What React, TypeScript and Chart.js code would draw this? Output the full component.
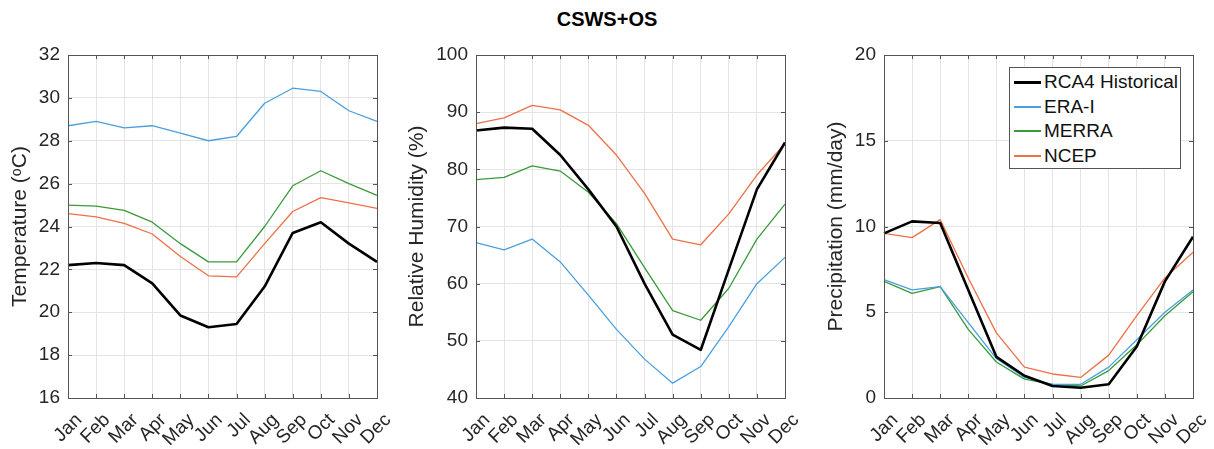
import React, { useEffect, useRef } from "react";
import { Chart, registerables } from "chart.js";

Chart.register(...registerables);

const months = ["Jan", "Feb", "Mar", "Apr", "May", "Jun", "Jul", "Aug", "Sep", "Oct", "Nov", "Dec"];
const seriesNames = ["RCA4 Historical", "ERA-I", "MERRA", "NCEP"];
const seriesColors = ["#000000", "#4a9fdf", "#3a9a3a", "#ee7046"];
const seriesWidths = [2.6, 1.3, 1.3, 1.3];

// Temperature (°C)
const tempRCA4 = [22.2, 22.3, 22.2, 21.35, 19.85, 19.3, 19.45, 21.2, 23.7, 24.2, 23.2, 22.35];
const tempERAI = [28.7, 28.9, 28.6, 28.7, 28.35, 28.0, 28.2, 29.75, 30.45, 30.3, 29.4, 28.9];
const tempMERRA = [25.0, 24.95, 24.75, 24.2, 23.2, 22.35, 22.35, 24.0, 25.9, 26.6, 26.0, 25.45];
const tempNCEP = [24.6, 24.45, 24.15, 23.65, 22.6, 21.7, 21.65, 23.2, 24.7, 25.35, 25.1, 24.85];

// Relative humidity (%)
const rhRCA4 = [86.8, 87.3, 87.1, 82.5, 76.5, 70.0, 60.0, 51.1, 48.4, 62.5, 76.5, 84.7];
const rhERAI = [67.2, 65.9, 67.8, 63.8, 58.0, 52.0, 46.8, 42.6, 45.5, 52.5, 60.0, 64.6];
const rhMERRA = [78.2, 78.6, 80.6, 79.7, 76.0, 70.5, 62.8, 55.3, 53.6, 59.2, 67.8, 73.9];
const rhNCEP = [88.0, 89.0, 91.2, 90.4, 87.7, 82.5, 75.8, 67.8, 66.8, 72.2, 79.0, 84.5];

// Precipitation (mm/day)
const prRCA4 = [9.6, 10.3, 10.2, 6.3, 2.4, 1.3, 0.7, 0.6, 0.8, 3.0, 6.8, 9.4];
const prERAI = [6.9, 6.3, 6.5, 4.4, 2.3, 1.2, 0.8, 0.8, 1.8, 3.4, 5.0, 6.3];
const prMERRA = [6.8, 6.1, 6.5, 4.0, 2.1, 1.1, 0.8, 0.7, 1.6, 3.1, 4.8, 6.2];
const prNCEP = [9.6, 9.35, 10.4, 7.0, 3.8, 1.8, 1.4, 1.2, 2.5, 4.8, 7.0, 8.5];

const FONT = "'Liberation Sans', Arial, Helvetica, sans-serif";
const AXIS_COLOR = "#555555";
const GRID_COLOR = "#e4e4e4";

const boxPlugin = {
  id: "matlabBox",
  afterDatasetsDraw(chart: any) {
    const { ctx, chartArea } = chart;
    const { left, right, top, bottom } = chartArea;
    ctx.save();
    ctx.strokeStyle = AXIS_COLOR;
    ctx.lineWidth = 1;
    const tl = 4;
    const xs = chart.scales.x;
    const ys = chart.scales.y;
    ctx.beginPath();
    xs.ticks.forEach((_t: any, i: number) => {
      const px = Math.round(xs.getPixelForTick(i)) + 0.5;
      ctx.moveTo(px, bottom);
      ctx.lineTo(px, bottom - tl);
      ctx.moveTo(px, top);
      ctx.lineTo(px, top + tl);
    });
    ys.ticks.forEach((_t: any, i: number) => {
      const py = Math.round(ys.getPixelForTick(i)) + 0.5;
      ctx.moveTo(left, py);
      ctx.lineTo(left + tl, py);
      ctx.moveTo(right, py);
      ctx.lineTo(right - tl, py);
    });
    ctx.stroke();
    ctx.strokeRect(Math.round(left) + 0.5, Math.round(top) + 0.5, Math.round(right - left), Math.round(bottom - top));
    ctx.restore();
  },
};

type PanelProps = {
  left: number;
  width: number;
  yAxisWidth: number;
  rightPad: number;
  titlePad: number;
  yTitle: string;
  yMin: number;
  yMax: number;
  yStep: number;
  series: number[][];
  legend?: boolean;
};

function Panel(p: PanelProps) {
  const ref = useRef<HTMLCanvasElement | null>(null);
  useEffect(() => {
    if (!ref.current) return;
    const chart = new Chart(ref.current, {
      type: "line",
      data: {
        labels: months,
        datasets: p.series.map((d, i) => ({
          label: seriesNames[i],
          data: d,
          borderColor: seriesColors[i],
          backgroundColor: seriesColors[i],
          borderWidth: seriesWidths[i],
          pointRadius: 0,
          fill: false,
          tension: 0,
          borderJoinStyle: "round" as const,
          order: i === 0 ? 0 : 1,
        })),
      },
      options: {
        animation: false,
        responsive: false,
        maintainAspectRatio: false,
        layout: { padding: { top: 55, right: p.rightPad, left: 0, bottom: 0 } },
        plugins: { legend: { display: false }, tooltip: { enabled: false }, title: { display: false } },
        scales: {
          x: {
            type: "category",
            offset: false,
            grid: { color: GRID_COLOR, drawTicks: false },
            border: { display: false },
            ticks: {
              autoSkip: false,
              maxRotation: 45,
              minRotation: 45,
              padding: 11,
              labelOffset: 11,
              color: "#262626",
              font: { family: FONT, size: 19 },
            },
            afterFit: (s: any) => {
              s.height = 51;
              s.paddingLeft = 0;
              s.paddingRight = 0;
            },
          },
          y: {
            min: p.yMin,
            max: p.yMax,
            grid: { color: GRID_COLOR, drawTicks: false },
            border: { display: false },
            ticks: {
              stepSize: p.yStep,
              padding: 8,
              color: "#262626",
              font: { family: FONT, size: 19 },
            },
            title: {
              display: true,
              text: p.yTitle,
              color: "#262626",
              font: { family: FONT, size: 21 },
              padding: { top: p.titlePad, bottom: 0 },
            },
            afterFit: (s: any) => {
              s.width = p.yAxisWidth;
              s.paddingTop = 0;
              s.paddingBottom = 0;
            },
          },
        },
      },
      plugins: [boxPlugin],
    } as any);
    return () => chart.destroy();
  }, []);
  return (
    <div style={{ position: "absolute", left: p.left, top: 0, width: p.width, height: 449 }}>
      <canvas ref={ref} width={p.width} height={449} style={{ display: "block" }} />
      {p.legend && (
        <div
          style={{
            position: "absolute",
            left: 1009 - p.left,
            top: 67,
            width: 172,
            height: 102,
            border: "1px solid #555",
            background: "#fff",
            boxSizing: "border-box",
            fontFamily: FONT,
            fontSize: 19,
            color: "#111",
            paddingTop: 2,
          }}
        >
          {seriesNames.map((n, i) => (
            <div key={n} style={{ display: "flex", alignItems: "center", height: 24.5, lineHeight: "24px" }}>
              <span
                style={{
                  display: "inline-block",
                  width: 27,
                  marginLeft: 4,
                  marginRight: 3,
                  height: 0,
                  borderTop: `${i === 0 ? 3 : 2}px solid ${seriesColors[i]}`,
                }}
              />
              <span style={{ whiteSpace: "nowrap" }}>{n}</span>
            </div>
          ))}
        </div>
      )}
    </div>
  );
}

export default function App() {
  return (
    <div style={{ position: "absolute", left: 0, top: 0, width: 1214, height: 449, background: "#fff", overflow: "hidden" }}>
      <div
        style={{
          position: "absolute",
          left: 0,
          top: 6,
          width: 1214,
          textAlign: "center",
          fontFamily: FONT,
          fontWeight: "bold",
          fontSize: 20,
          lineHeight: "26px",
          color: "#000",
        }}
      >
        CSWS+OS
      </div>
      <Panel
        left={0}
        width={400}
        yAxisWidth={68}
        rightPad={23}
        titlePad={8}
        yTitle="Temperature (ᵒC)"
        yMin={16}
        yMax={32}
        yStep={2}
        series={[tempRCA4, tempERAI, tempMERRA, tempNCEP]}
      />
      <Panel
        left={400}
        width={410}
        yAxisWidth={76}
        rightPad={25}
        titlePad={5}
        yTitle="Relative Humidity (%)"
        yMin={40}
        yMax={100}
        yStep={10}
        series={[rhRCA4, rhERAI, rhMERRA, rhNCEP]}
      />
      <Panel
        left={810}
        width={404}
        yAxisWidth={74}
        rightPad={21}
        titlePad={14}
        yTitle="Precipitation (mm/day)"
        yMin={0}
        yMax={20}
        yStep={5}
        series={[prRCA4, prERAI, prMERRA, prNCEP]}
        legend
      />
    </div>
  );
}
